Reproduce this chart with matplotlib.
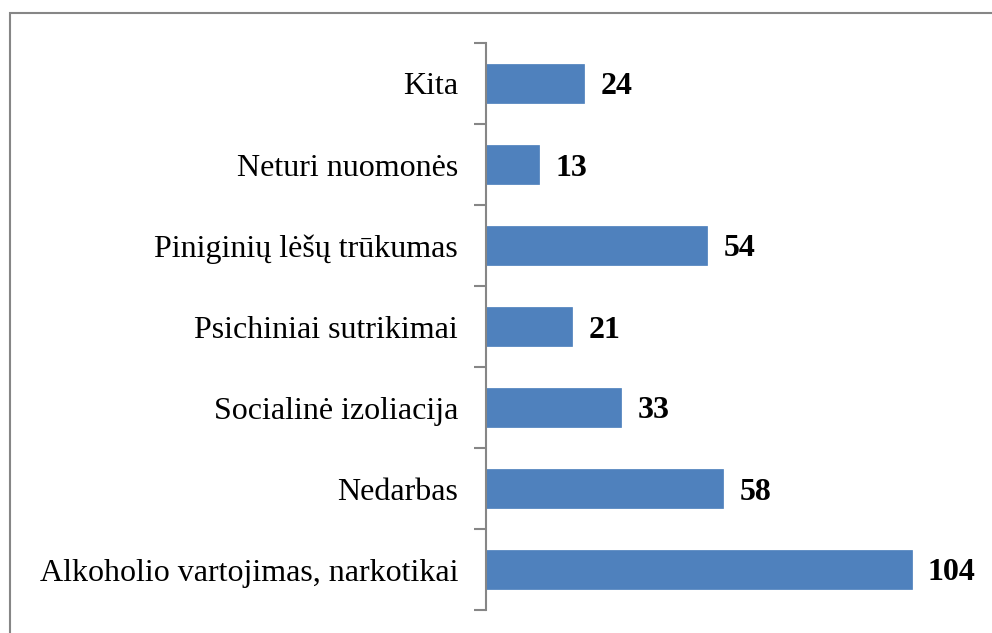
import matplotlib
matplotlib.use("Agg")
import matplotlib.pyplot as plt
from matplotlib.patches import Rectangle

categories = ["Alkoholio vartojimas, narkotikai", "Nedarbas", "Socialinė izoliacija",
              "Psichiniai sutrikimai", "Piniginių lėšų trūkumas", "Neturi nuomonės", "Kita"]
values = [104, 58, 33, 21, 54, 13, 24]

plt.rcParams['font.family'] = ['Liberation Serif', 'DejaVu Serif']

W, H = 992, 633
fig = plt.figure(figsize=(W/100, H/100), dpi=100)
# outer border
fig.patches.append(Rectangle((10/W, -0.1), 1.2, 1 - 13/H + 0.1, transform=fig.transFigure,
                             fill=False, edgecolor='#868686', linewidth=1.5))

ax_l, ax_r, ax_t, ax_b = 486, 977, 43, 610
ax = fig.add_axes([ax_l/W, 1 - ax_b/H, (ax_r-ax_l)/W, (ax_b-ax_t)/H])
ypos = list(range(len(categories)))
ax.barh(ypos, values, height=0.49, color='#4F81BD', edgecolor='#4A7EBB', linewidth=0.5)
ax.set_xlim(0, 120)
ax.set_ylim(-0.5, len(categories) - 0.5)
for s in ['top', 'right', 'bottom']:
    ax.spines[s].set_visible(False)
ax.spines['left'].set_color('#868686')
ax.spines['left'].set_linewidth(1.5)
ax.set_xticks([])
ax.set_yticks(ypos)
ax.set_yticklabels(categories, fontsize=23)
ax.tick_params(axis='y', which='major', length=0, pad=20)
ax.set_yticks([i - 0.5 for i in range(len(categories) + 1)], minor=True)
ax.tick_params(axis='y', which='minor', length=9, width=1.5, color='#868686')
for y, v in zip(ypos, values):
    ax.text(v + 4, y, str(v), va='center_baseline', ha='left', fontsize=23, fontweight='bold')

fig.savefig("out.png", dpi=100)
